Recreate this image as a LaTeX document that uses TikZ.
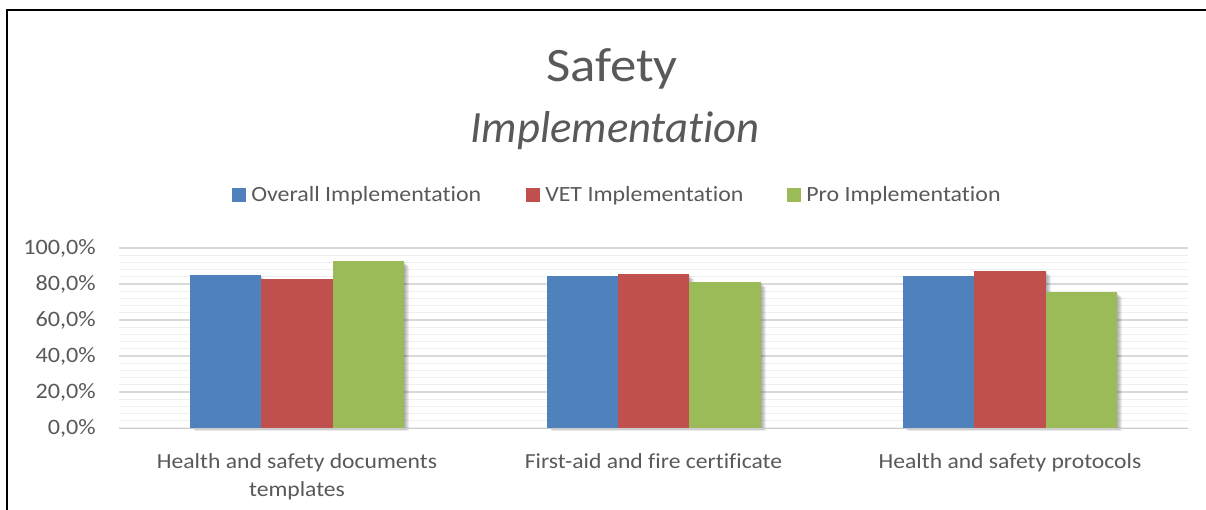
\documentclass[tikz,border=0pt]{standalone}
\usepackage{fontspec}
\setmainfont{Carlito}[Ligatures=NoCommon, FakeStretch=1.1]
\newfontfamily\itfam{Carlito}[Ligatures=NoCommon]
\definecolor{txt}{HTML}{595959}
\definecolor{cblue}{HTML}{4F81BD}
\definecolor{cred}{HTML}{C0504D}
\definecolor{cgreen}{HTML}{9BBB59}
\definecolor{minorg}{HTML}{EFEFEF}
\definecolor{majorg}{HTML}{D9D9D9}
\definecolor{baseg}{HTML}{CCCCCC}
\tikzset{
  lbl/.style={text=txt, inner sep=0pt, font=\fontsize{16.5}{20}\selectfont},
  leglbl/.style={text=txt, inner sep=0pt, anchor=west, font=\fontsize{16.3}{20}\selectfont},
  legsq/.style={minimum size=10pt, inner sep=0pt, anchor=west},
  catlbl/.style={text=txt, inner sep=0pt, align=center, font=\fontsize{16.1}{21}\selectfont},
}
\begin{document}
\begin{tikzpicture}[x=0.75pt,y=-0.75pt]
\useasboundingbox (0,0) rectangle (1206,510);
\fill[white] (0,0) rectangle (1206,510);
% frame
\draw[black, line width=1.6pt] (7,511) -- (7,10) -- (1207,10);
% title
\node[text=txt, inner sep=0pt, font=\fontsize{36}{40}\selectfont] (title) at (612,68.5) {Safety};
\node[text=txt, inner sep=0pt, font=\itfam\itshape\fontsize{33.5}{40}\selectfont] (subtitle) at (615,130.5) {Implementation};
% legend
\node[legsq, fill=cblue] (lsq1) at (232,195) {};
\node[leglbl] (l1) at (251,195.5) {Overall Implementation};
\node[legsq, fill=cred] (lsq2) at (526,195) {};
\node[leglbl] (l2) at (545,195.5) {VET Implementation};
\node[legsq, fill=cgreen] (lsq3) at (787,195) {};
\node[leglbl] (l3) at (806,195.5) {Pro Implementation};
% grid
\foreach \k in {0,...,25} {
  \draw[minorg, line width=0.9pt] (119,{428-7.2*\k}) -- (1188,{428-7.2*\k});
}
\foreach \k in {1,...,5} {
  \draw[majorg, line width=1pt] (119,{428-36*\k}) -- (1188,{428-36*\k});
}
% y labels
\foreach \k/\t in {0/0,1/20,2/40,3/60,4/80,5/100} {
  \node[lbl, anchor=east] (y\k) at (96,{428-36*\k}) {\t,0\%};
}
% bars
\foreach \g/\va/\vb/\vc in {0/85.0/82.6/92.6, 1/84.6/85.5/80.9, 2/84.4/87.2/75.7} {
  \pgfmathsetmacro{\c}{297+356.5*\g}
  \foreach \i/\v/\col in {0/\va/cblue, 1/\vb/cred, 2/\vc/cgreen} {
    \pgfmathsetmacro{\xa}{\c-107+71.33*\i}
    \pgfmathsetmacro{\xb}{\xa+71.33}
    \pgfmathsetmacro{\yt}{428-1.8*\v}
    \foreach \s in {1,2,3,4,5} {
      \fill[black, opacity=0.07] (\xa+\s,\yt+\s) rectangle (\xb+\s,428+\s*0.5);
    }
  }
  \foreach \i/\v/\col in {0/\va/cblue, 1/\vb/cred, 2/\vc/cgreen} {
    \pgfmathsetmacro{\xa}{\c-107+71.33*\i}
    \pgfmathsetmacro{\xb}{\xa+71.33}
    \pgfmathsetmacro{\yt}{428-1.8*\v}
    \fill[\col] (\xa,\yt) rectangle (\xb,428);
  }
}
\draw[baseg, line width=1.3pt] (119,428.5) -- (1188,428.5);
% category labels
\node[catlbl, anchor=north] (c1) at (297,453) {Health and safety documents\\templates};
\node[catlbl, anchor=north] (c2) at (653.5,453) {First-aid and fire certificate};
\node[catlbl, anchor=north] (c3) at (1010,453) {Health and safety protocols};
\end{tikzpicture}
\end{document}
